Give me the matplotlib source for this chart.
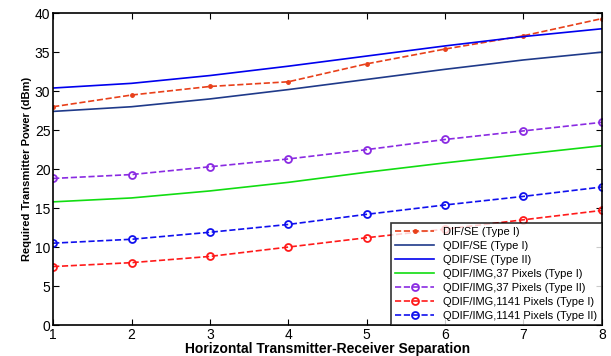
import matplotlib
matplotlib.use('Agg')
import matplotlib.pyplot as plt

plt.rcParams['font.family'] = ['Liberation Sans', 'DejaVu Sans']

x = [1, 2, 3, 4, 5, 6, 7, 8]
dif_se_1 = [28.0, 29.5, 30.6, 31.2, 33.5, 35.4, 37.1, 39.3]
qdif_se_1 = [27.4, 28.0, 29.0, 30.2, 31.5, 32.8, 34.0, 35.0]
qdif_se_2 = [30.4, 31.0, 32.0, 33.2, 34.5, 35.8, 37.0, 38.0]
img37_1 = [15.8, 16.3, 17.2, 18.3, 19.6, 20.8, 21.9, 23.0]
img37_2 = [18.8, 19.3, 20.3, 21.3, 22.5, 23.8, 24.9, 26.0]
img1141_1 = [7.5, 8.0, 8.8, 10.0, 11.2, 12.3, 13.5, 14.7]
img1141_2 = [10.5, 11.0, 11.9, 12.9, 14.2, 15.4, 16.5, 17.7]

fig, ax = plt.subplots(figsize=(6.11, 3.56), dpi=100)
fig.subplots_adjust(left=0.087, right=0.985, top=0.963, bottom=0.087)

ax.plot(x, dif_se_1, '--', color='#e8401a', marker='.', markersize=5, lw=1.2, label='DIF/SE (Type I)')
ax.plot(x, qdif_se_1, '-', color='#1f3a8a', lw=1.2, label='QDIF/SE (Type I)')
ax.plot(x, qdif_se_2, '-', color='#0000ee', lw=1.2, label='QDIF/SE (Type II)')
ax.plot(x, img37_1, '-', color='#11dd11', lw=1.2, label='QDIF/IMG,37 Pixels (Type I)')
ax.plot(x, img37_2, '--', color='#8a2be2', marker='o', mfc='none', markersize=5, mew=1.3, lw=1.2,
        label='QDIF/IMG,37 Pixels (Type II)')
ax.plot(x, img1141_1, '--', color='#ff1a1a', marker='o', mfc='none', markersize=5, mew=1.3, lw=1.2,
        label='QDIF/IMG,1141 Pixels (Type I)')
ax.plot(x, img1141_2, '--', color='#1010ee', marker='o', mfc='none', markersize=5, mew=1.3, lw=1.2,
        label='QDIF/IMG,1141 Pixels (Type II)')

ax.set_xlim(1, 8)
ax.set_ylim(0, 40)
ax.set_xticks(x)
ax.set_yticks(range(0, 41, 5))
ax.tick_params(direction='in', top=True, right=True, labelsize=10, length=4, pad=2)
for s in ax.spines.values():
    s.set_linewidth(1.2)
ax.set_xlabel('Horizontal Transmitter-Receiver Separation', fontsize=10, fontweight='bold', labelpad=0)
ax.set_ylabel('Required Transmitter Power (dBm)', fontsize=8, fontweight='bold', labelpad=2)

leg = ax.legend(loc='lower right', fontsize=8, frameon=True, fancybox=False, borderaxespad=0,
                handlelength=3.5, labelspacing=0.35, borderpad=0.4)
leg.get_frame().set_edgecolor('black')
leg.get_frame().set_linewidth(1.2)

fig.savefig('out.png', dpi=100)
